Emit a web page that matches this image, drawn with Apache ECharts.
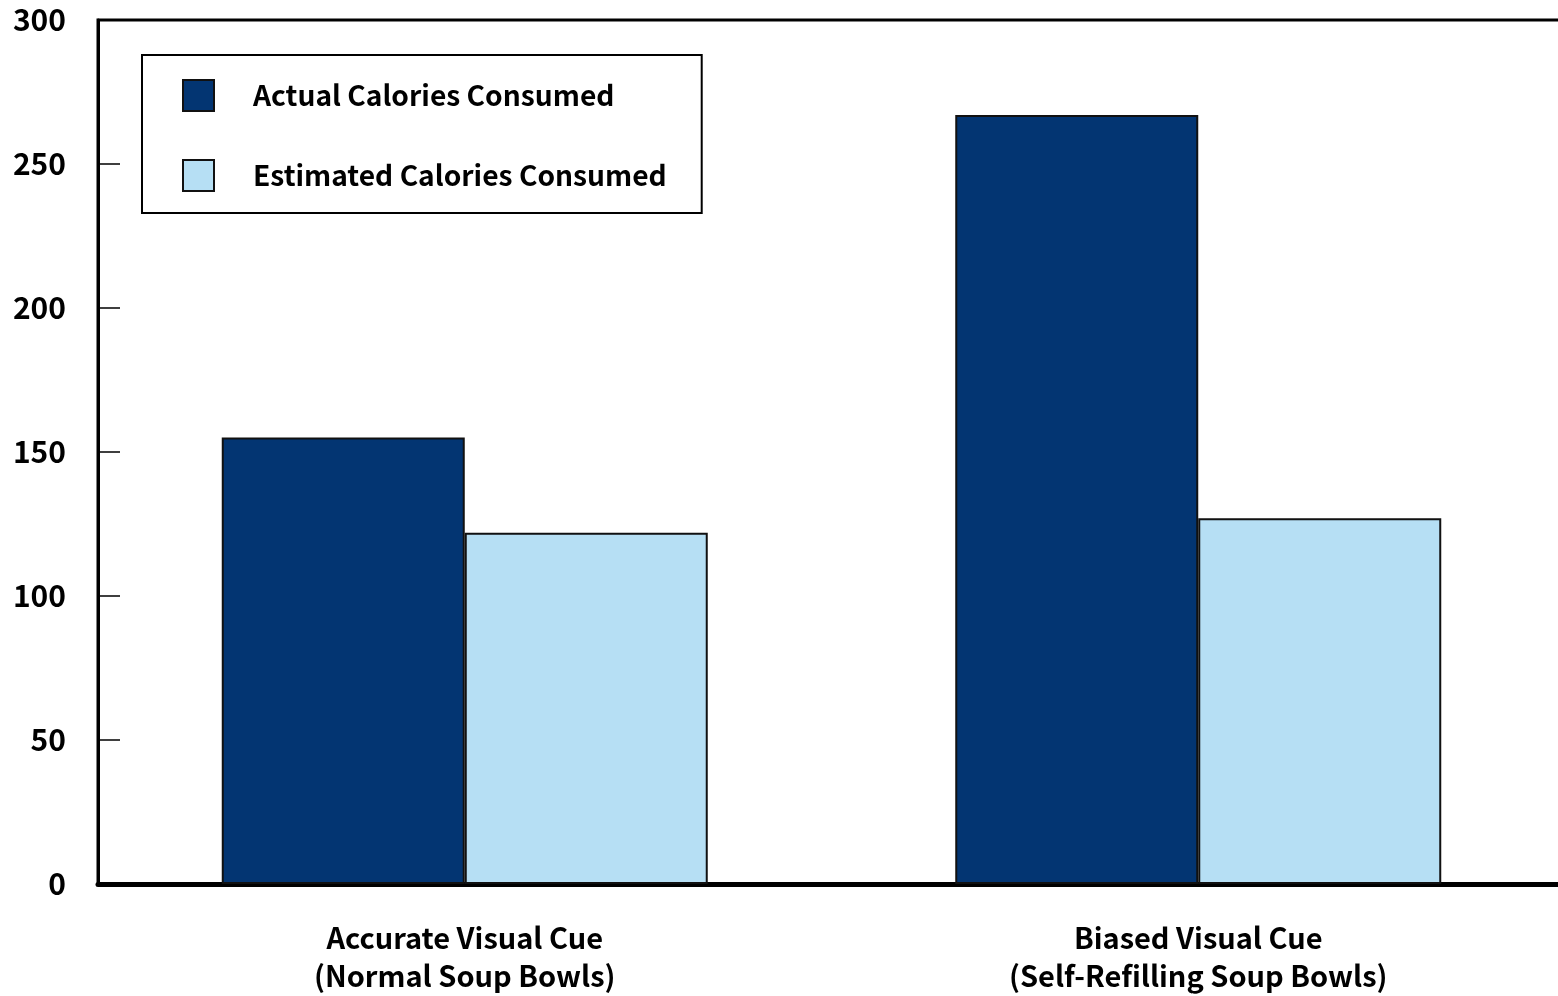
<!DOCTYPE html>
<html>
<head>
<meta charset="utf-8">
<script src="https://cdn.jsdelivr.net/npm/echarts@6/dist/echarts.min.js"></script>
<style>
  html, body { margin: 0; padding: 0; background: #ffffff; overflow: hidden; }
  /* the plot frame runs past the right edge of the window, so the canvas is a little wider */
  #chart { width: 1566px; height: 996px; }
</style>
</head>
<body>
<div id="chart"></div>
<script>
// Soup-bowl study: calories eaten vs. calories the eaters believed they ate
const categories = [
  'Accurate Visual Cue\n(Normal Soup Bowls)',
  'Biased Visual Cue\n(Self-Refilling Soup Bowls)'
];
const seriesNames = ['Actual Calories Consumed', 'Estimated Calories Consumed'];
const actualCalories = [155, 267];
const estimatedCalories = [122, 127];
const yTicks = [0, 50, 100, 150, 200, 250, 300];

const FONT = '"Noto Sans CJK KR", "Noto Sans", sans-serif';
const NAVY = '#033572';
const SKY = '#b6dff4';

const chart = echarts.init(document.getElementById('chart'), null, { renderer: 'canvas' });

chart.setOption({
  animation: false,
  backgroundColor: '#ffffff',
  grid: {
    left: 98,
    top: 20,
    height: 864,
    right: 1,
    show: true,
    borderColor: '#000000',
    borderWidth: 3,
    backgroundColor: 'transparent'
  },
  legend: {
    orient: 'vertical',
    left: 142,
    top: 55,
    padding: [24, 35, 21, 40],
    itemWidth: 31,
    itemHeight: 31,
    itemGap: 47,
    borderColor: '#000000',
    borderWidth: 2,
    icon: 'rect',
    textStyle: {
      fontFamily: FONT,
      fontWeight: 'bold',
      fontSize: 28.2,
      color: '#000000',
      padding: [0, 0, 0, 34]
    },
    data: seriesNames
  },
  xAxis: {
    type: 'category',
    data: categories,
    axisLine: { lineStyle: { color: '#000000', width: 5 } },
    axisTick: { show: false },
    axisLabel: {
      fontFamily: FONT,
      fontWeight: 'bold',
      fontSize: 29,
      color: '#000000',
      lineHeight: 38,
      margin: 35
    }
  },
  yAxis: {
    type: 'value',
    min: yTicks[0],
    max: yTicks[yTicks.length - 1],
    interval: yTicks[1] - yTicks[0],
    splitLine: { show: false },
    axisLine: { show: true, lineStyle: { color: '#000000', width: 3 } },
    axisTick: { show: true, inside: true, length: 22, lineStyle: { color: '#000000', width: 1.5 } },
    axisLabel: {
      fontFamily: FONT,
      fontWeight: 'bold',
      fontSize: 30,
      color: '#000000',
      margin: 32
    }
  },
  series: [
    {
      name: seriesNames[0],
      type: 'bar',
      data: actualCalories,
      barWidth: 243,
      barGap: '0%',
      itemStyle: { color: NAVY, borderColor: '#111111', borderWidth: 2 }
    },
    {
      name: seriesNames[1],
      type: 'bar',
      data: estimatedCalories,
      barWidth: 243,
      barGap: '0%',
      itemStyle: { color: SKY, borderColor: '#111111', borderWidth: 2 }
    }
  ]
});
</script>
</body>
</html>
